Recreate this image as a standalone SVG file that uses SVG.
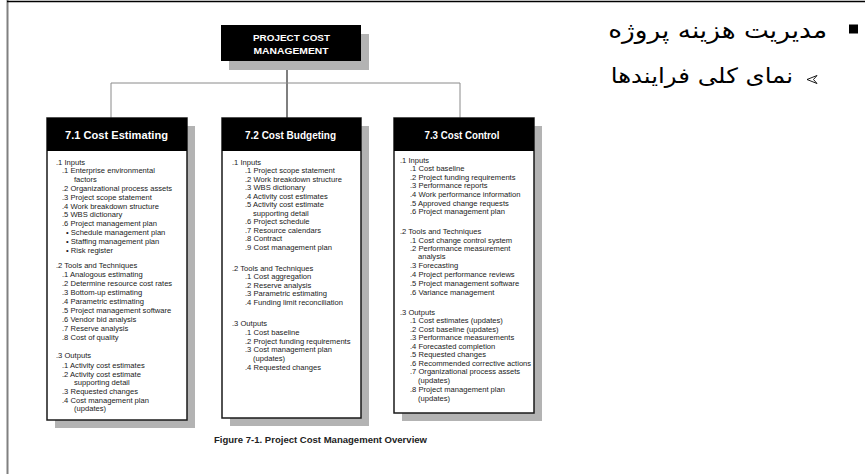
<svg xmlns="http://www.w3.org/2000/svg" width="865" height="474" viewBox="0 0 865 474">
<style>
.shadow{fill:#b3b3b3}
.hdr{fill:#000}
.body{fill:#fff;stroke:#1a1a1a;stroke-width:1.5}
.title{font-family:"Liberation Sans",Arial,sans-serif;font-weight:bold;fill:#fff;font-size:10px}
.top{font-family:"Liberation Sans",Arial,sans-serif;font-weight:bold;fill:#fff;font-size:8.5px}
.t{font-family:"Liberation Sans",Arial,sans-serif;font-size:7.6px;fill:#1a1a1a}
.conn{stroke:#8a8a8a;stroke-width:1;fill:none}
.connd{stroke:#555;stroke-width:1.5;fill:none}
.fa{font-family:"DejaVu Sans","Noto Sans",sans-serif;fill:#000}
</style>
<rect x="0" y="0" width="865" height="474" fill="#fff"/>
<g id="frame">
<line x1="7.5" y1="0" x2="7.5" y2="474" stroke="#808080" stroke-width="2"/>
<line x1="7" y1="1.5" x2="865" y2="1.5" stroke="#000" stroke-width="1.5"/>
</g>
<g id="connectors">
<line class="connd" x1="287" y1="61" x2="287" y2="118"/>
<line class="conn" x1="111" y1="83" x2="460" y2="83"/>
<line class="conn" x1="111" y1="83" x2="111" y2="118"/>
<line class="conn" x1="460" y1="83" x2="460" y2="118"/>
</g>
<g id="node-root">
<rect class="shadow" x="229" y="34" width="140" height="36"/>
<rect class="hdr" x="221" y="25" width="140" height="36"/>
<text class="top" x="291.5" y="40.5" text-anchor="middle" textLength="77" lengthAdjust="spacingAndGlyphs">PROJECT COST</text>
<text class="top" x="291" y="54" text-anchor="middle" textLength="75" lengthAdjust="spacingAndGlyphs">MANAGEMENT</text>
</g>
<g id="node-7-1">
<rect class="shadow" x="55" y="126" width="140" height="302"/>
<rect class="body" x="47" y="118" width="140" height="302"/>
<rect class="hdr" x="47" y="118" width="140" height="33"/>
<text class="title" x="116.5" y="139" text-anchor="middle" textLength="103" lengthAdjust="spacingAndGlyphs">7.1 Cost Estimating</text>
<text class="t" x="56" y="164.5">.1 Inputs</text>
<text class="t" x="62" y="173.3">.1 Enterprise environmental</text>
<text class="t" x="74" y="182">factors</text>
<text class="t" x="62" y="190.9">.2 Organizational process assets</text>
<text class="t" x="62" y="199.7">.3 Project scope statement</text>
<text class="t" x="62" y="208.5">.4 Work breakdown structure</text>
<text class="t" x="62" y="217.3">.5 WBS dictionary</text>
<text class="t" x="62" y="226.1">.6 Project management plan</text>
<text class="t" x="66" y="234.9">• Schedule management plan</text>
<text class="t" x="66" y="243.7">• Staffing management plan</text>
<text class="t" x="66" y="252.5">• Risk register</text>
<text class="t" x="56" y="267.5">.2 Tools and Techniques</text>
<text class="t" x="62" y="277">.1 Analogous estimating</text>
<text class="t" x="62" y="286">.2 Determine resource cost rates</text>
<text class="t" x="62" y="295">.3 Bottom-up estimating</text>
<text class="t" x="62" y="304">.4 Parametric estimating</text>
<text class="t" x="62" y="313">.5 Project management software</text>
<text class="t" x="62" y="322">.6 Vendor bid analysis</text>
<text class="t" x="62" y="331">.7 Reserve analysis</text>
<text class="t" x="62" y="340">.8 Cost of quality</text>
<text class="t" x="56" y="357.5">.3 Outputs</text>
<text class="t" x="62" y="367.5">.1 Activity cost estimates</text>
<text class="t" x="62" y="376.5">.2 Activity cost estimate</text>
<text class="t" x="74" y="385.2">supporting detail</text>
<text class="t" x="62" y="394.2">.3 Requested changes</text>
<text class="t" x="62" y="402.5">.4 Cost management plan</text>
<text class="t" x="74" y="411">(updates)</text>
</g>
<g id="node-7-2">
<rect class="shadow" x="230" y="126" width="139" height="300"/>
<rect class="body" x="222" y="118" width="139" height="300"/>
<rect class="hdr" x="222" y="118" width="139" height="33"/>
<text class="title" x="290.5" y="139" text-anchor="middle" textLength="91" lengthAdjust="spacingAndGlyphs">7.2 Cost Budgeting</text>
<text class="t" x="232" y="164.5">.1 Inputs</text>
<text class="t" x="245" y="173">.1 Project scope statement</text>
<text class="t" x="245" y="181.5">.2 Work breakdown structure</text>
<text class="t" x="245" y="190">.3 WBS dictionary</text>
<text class="t" x="245" y="198.5">.4 Activity cost estimates</text>
<text class="t" x="245" y="207">.5 Activity cost estimate</text>
<text class="t" x="253" y="215.5">supporting detail</text>
<text class="t" x="245" y="224">.6 Project schedule</text>
<text class="t" x="245" y="232.5">.7 Resource calendars</text>
<text class="t" x="245" y="241">.8 Contract</text>
<text class="t" x="245" y="249.5">.9 Cost management plan</text>
<text class="t" x="232" y="270.5">.2 Tools and Techniques</text>
<text class="t" x="245" y="279">.1 Cost aggregation</text>
<text class="t" x="245" y="287.5">.2 Reserve analysis</text>
<text class="t" x="245" y="296">.3 Parametric estimating</text>
<text class="t" x="245" y="304.5">.4 Funding limit reconciliation</text>
<text class="t" x="232" y="325.5">.3 Outputs</text>
<text class="t" x="245" y="334.5">.1 Cost baseline</text>
<text class="t" x="245" y="343.5">.2 Project funding requirements</text>
<text class="t" x="245" y="352">.3 Cost management plan</text>
<text class="t" x="253" y="360.5">(updates)</text>
<text class="t" x="245" y="369.5">.4 Requested changes</text>
</g>
<g id="node-7-3">
<rect class="shadow" x="402" y="126" width="140" height="295"/>
<rect class="body" x="394" y="118" width="140" height="295"/>
<rect class="hdr" x="394" y="118" width="140" height="33"/>
<text class="title" x="462" y="139" text-anchor="middle" textLength="75" lengthAdjust="spacingAndGlyphs">7.3 Cost Control</text>
<text class="t" x="400" y="162.5">.1 Inputs</text>
<text class="t" x="410" y="170.8">.1 Cost baseline</text>
<text class="t" x="410" y="179.5">.2 Project funding requirements</text>
<text class="t" x="410" y="188.2">.3 Performance reports</text>
<text class="t" x="410" y="196.9">.4 Work performance information</text>
<text class="t" x="410" y="205.6">.5 Approved change requests</text>
<text class="t" x="410" y="214.3">.6 Project management plan</text>
<text class="t" x="400" y="234.2">.2 Tools and Techniques</text>
<text class="t" x="410" y="242.5">.1 Cost change control system</text>
<text class="t" x="410" y="250.5">.2 Performance measurement</text>
<text class="t" x="418" y="258.5">analysis</text>
<text class="t" x="410" y="267.5">.3 Forecasting</text>
<text class="t" x="410" y="276.5">.4 Project performance reviews</text>
<text class="t" x="410" y="285.5">.5 Project management software</text>
<text class="t" x="410" y="294.5">.6 Variance management</text>
<text class="t" x="400" y="314.5">.3 Outputs</text>
<text class="t" x="410" y="323">.1 Cost estimates (updates)</text>
<text class="t" x="410" y="331.5">.2 Cost baseline (updates)</text>
<text class="t" x="410" y="340">.3 Performance measurements</text>
<text class="t" x="410" y="348.5">.4 Forecasted completion</text>
<text class="t" x="410" y="357">.5 Requested changes</text>
<text class="t" x="410" y="365.5">.6 Recommended corrective actions</text>
<text class="t" x="410" y="374">.7 Organizational process assets</text>
<text class="t" x="418" y="382.5">(updates)</text>
<text class="t" x="410" y="392">.8 Project management plan</text>
<text class="t" x="418" y="401">(updates)</text>
</g>
<g id="caption">
<text x="214" y="443" font-family="Liberation Sans, Arial, sans-serif" font-weight="bold" font-size="9" fill="#222" textLength="213" lengthAdjust="spacingAndGlyphs">Figure 7-1. Project Cost Management Overview</text>
</g>
<g id="bullets">
<rect x="849" y="24.5" width="9" height="9" fill="#000"/>
<text class="fa" transform="translate(827,37.5) scale(1.146,1)" x="0" y="0" font-size="23" text-anchor="end">مدیریت هزینه پروژه</text>
<path d="M817,75.5 L807,79.5 L817,83.5 L813.5,79.5 Z" fill="none" stroke="#000" stroke-width="0.9" stroke-linejoin="miter"/>
<text class="fa" transform="translate(793,83) scale(1.164,1)" x="0" y="0" font-size="21" text-anchor="end">نمای کلی فرایندها</text>
</g>
</svg>
